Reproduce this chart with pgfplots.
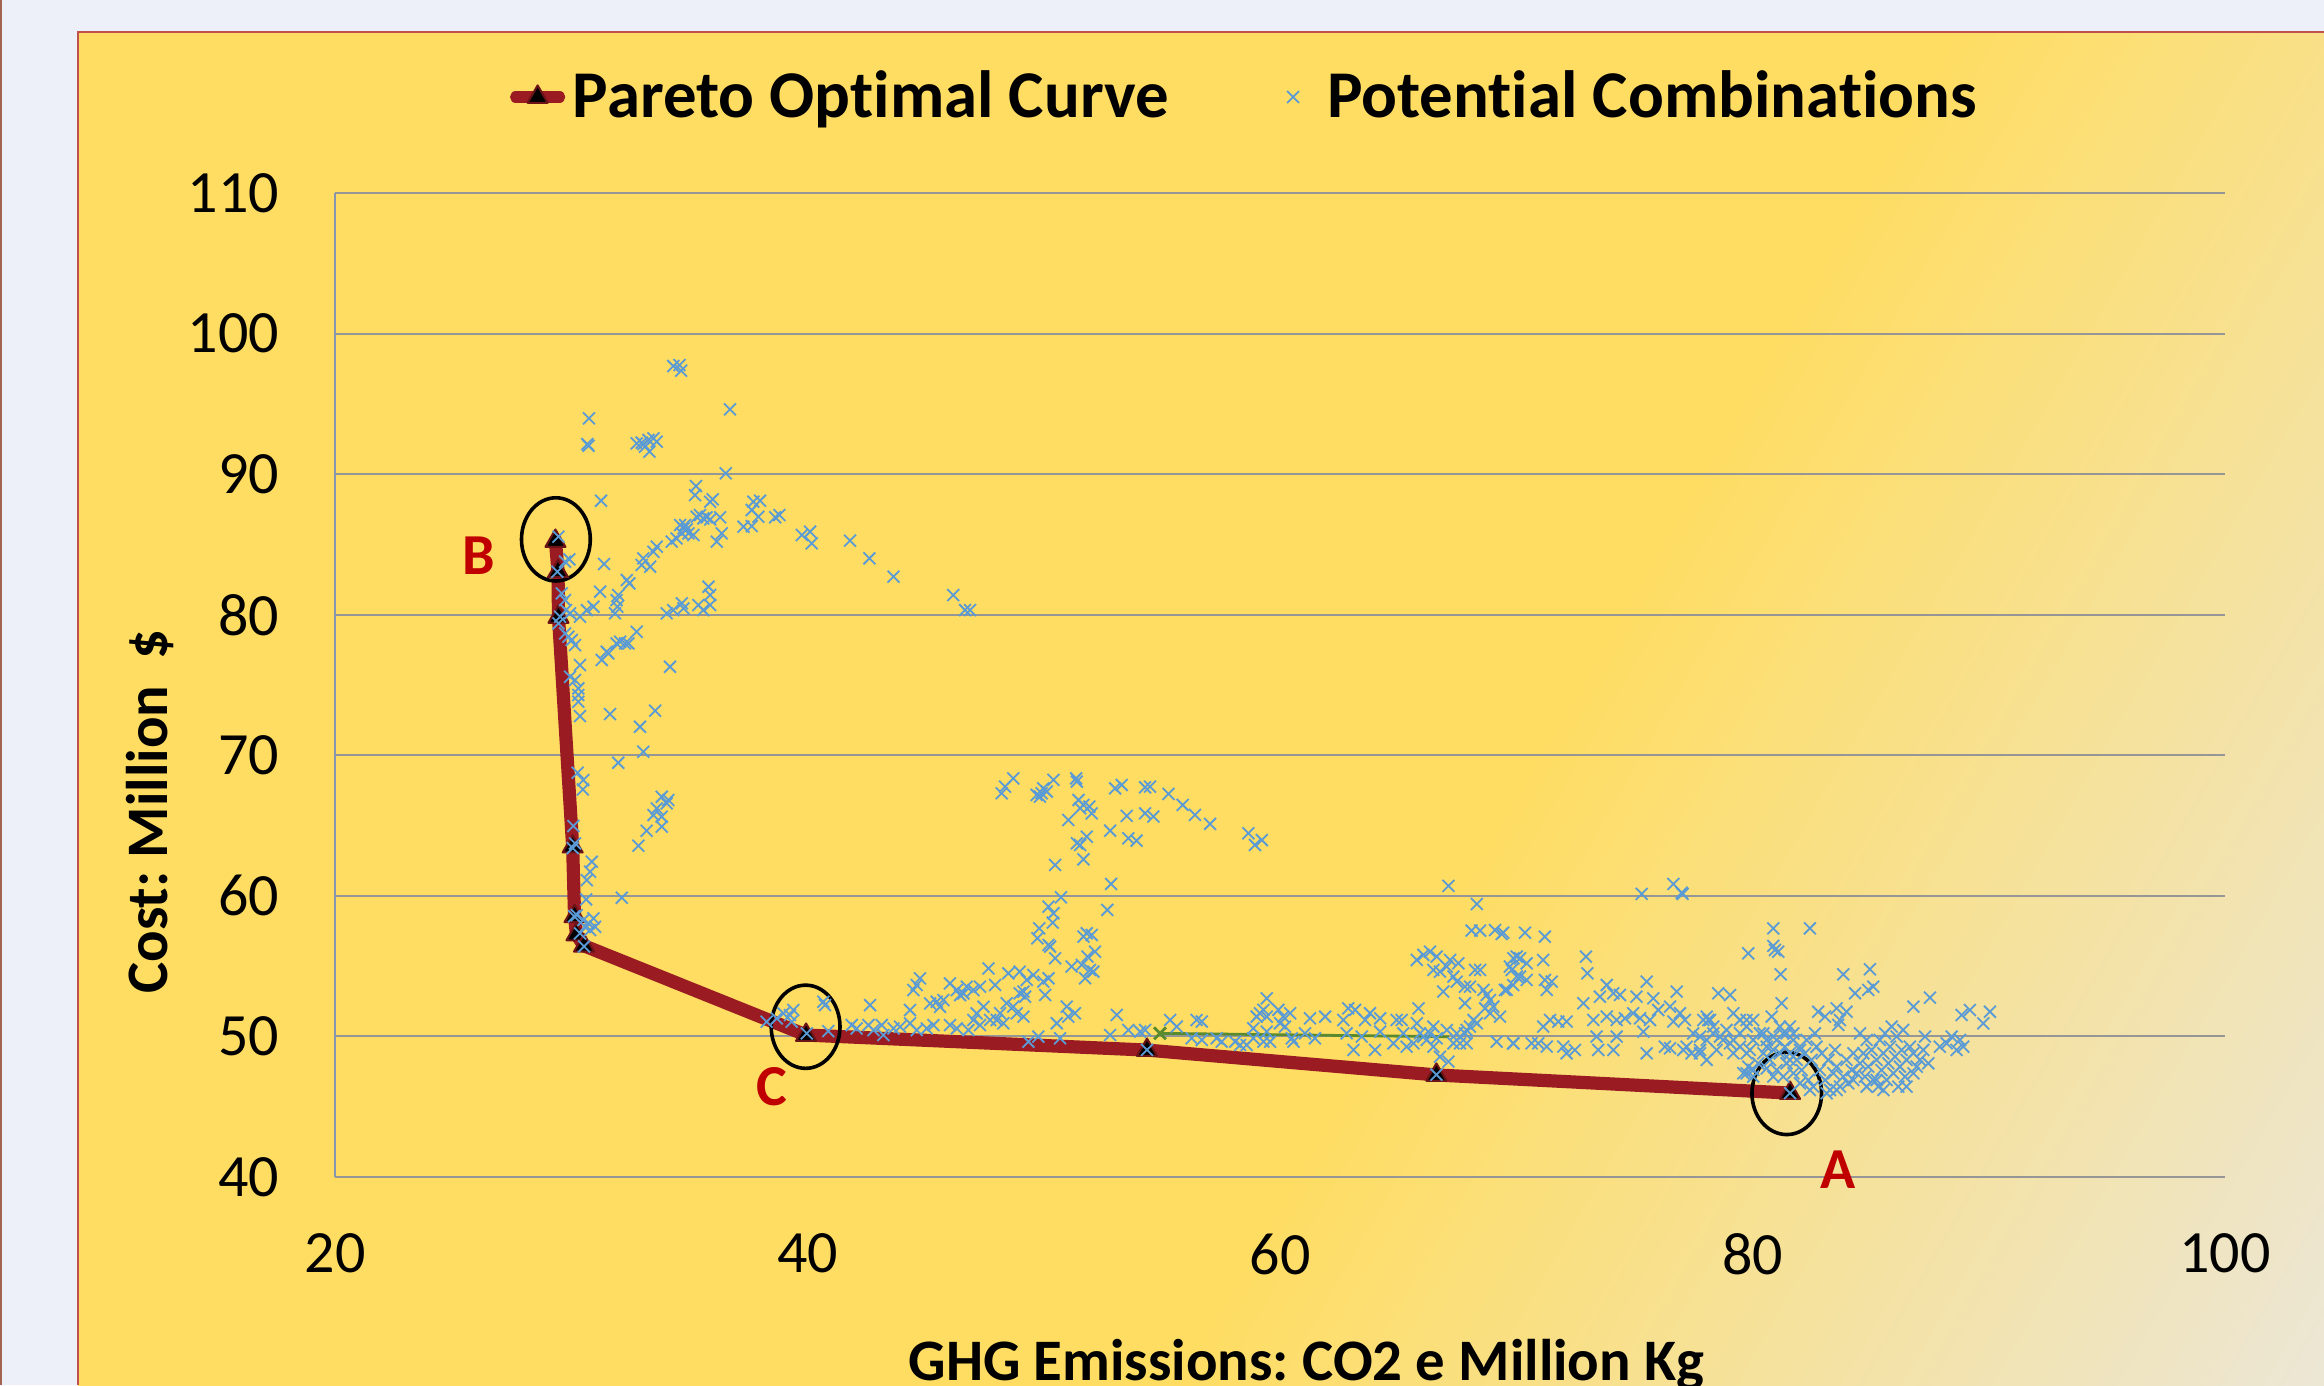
\documentclass[border=0pt]{standalone}
\usepackage{fontspec}
\setmainfont{Carlito}[Ligatures={NoCommon}]
\usepackage{pgfplots}
\usepackage{pgfplotstable}
\pgfplotsset{compat=1.18}
\frenchspacing
\definecolor{outerbg}{RGB}{237,240,248}
\definecolor{leftline}{RGB}{160,100,80}
\definecolor{panelY}{RGB}{255,221,98}
\definecolor{panelE}{RGB}{236,230,212}
\definecolor{panelborder}{RGB}{192,80,77}
\definecolor{pareto}{RGB}{155,27,35}
\definecolor{scat}{RGB}{91,155,213}
\definecolor{gridc}{RGB}{150,150,150}
\definecolor{axisc}{RGB}{134,150,178}
\definecolor{greenl}{RGB}{90,138,46}
\definecolor{lblred}{RGB}{192,0,0}
\pgfdeclarehorizontalshading{panelshade}{100bp}{color(0bp)=(panelY); color(58bp)=(panelY); color(84bp)=(panelE); color(100bp)=(panelE)}
\pgfplotsset{
  paretolegend/.style={legend image code/.code={\path[draw=none] (0pt,0pt) -- (13.8pt,0pt); \draw[mark repeat=2, mark phase=2, ##1, line width=2.8pt] plot coordinates {(0pt,0pt) (5.5pt,0pt) (11pt,0pt)};}},
  scatlegend/.style={legend image code/.code={\path[draw=none] (0pt,0pt) -- (16pt,0pt); \draw[##1] plot coordinates {(8pt,0pt)};}},
}

\pgfplotstableread{
x y
29.33 85.24
29.44 83.08
29.46 79.84
30.06 63.50
30.14 58.55
30.22 57.25
30.54 56.45
39.94 50.10
54.37 49.03
66.62 47.26
81.59 45.97
}\paretotable

\pgfplotstableread{
x y
34.32 97.69
34.58 97.76
34.65 97.36
36.72 94.61
30.75 93.97
30.68 92.14
30.73 92.02
32.77 92.19
33.05 92.14
33.27 92.43
33.48 92.55
33.62 92.31
33.12 91.95
33.31 91.60
32.98 92.24
36.54 90.06
31.26 88.11
35.28 89.15
35.24 88.51
35.88 88.04
35.99 88.21
37.71 88.04
37.99 88.11
37.64 87.45
37.92 86.97
37.29 86.26
37.64 86.31
38.63 86.93
38.81 87.09
35.31 86.97
35.59 86.85
35.73 86.93
35.88 86.78
36.30 86.93
35.45 87.09
34.61 86.38
34.75 86.14
34.89 86.07
34.68 85.79
34.46 85.43
34.25 85.20
35.17 85.67
34.82 86.38
34.96 85.79
36.37 85.79
36.16 85.20
39.76 85.67
40.11 85.91
40.18 85.08
41.80 85.27
42.62 84.01
43.64 82.71
46.17 81.40
46.67 80.33
46.88 80.33
33.62 84.84
33.48 84.48
33.05 84.01
33.34 83.42
32.98 83.54
31.39 83.61
29.46 85.55
29.41 83.06
29.92 83.94
29.74 83.77
32.35 82.47
32.46 82.23
31.99 81.40
31.92 81.04
31.85 80.10
31.95 80.57
31.22 81.64
30.94 80.57
30.66 80.33
30.37 79.86
29.60 81.52
29.74 81.04
29.78 80.33
29.95 80.10
34.04 80.10
34.32 80.33
34.68 80.81
34.75 80.45
35.38 80.69
35.59 80.33
35.88 80.69
35.81 81.99
35.88 81.40
29.53 79.86
29.46 79.38
29.74 78.67
29.88 78.44
30.02 78.20
30.16 77.84
32.77 78.79
32.07 78.08
32.28 77.96
32.42 77.96
31.92 77.96
31.50 77.37
31.57 77.25
31.29 76.78
34.18 76.30
30.37 76.42
29.95 75.59
30.16 75.35
30.30 74.76
30.30 74.29
30.30 73.81
30.37 72.79
31.64 72.93
32.91 72.03
33.55 73.17
33.05 70.25
31.99 69.47
30.27 68.76
30.51 68.24
30.49 67.57
33.83 67.05
34.04 66.58
33.62 66.22
33.48 65.75
33.83 65.63
33.19 64.63
33.83 64.92
32.84 63.57
34.11 66.82
30.09 64.97
30.16 63.73
30.06 63.40
30.87 62.43
30.80 61.72
30.66 61.12
30.63 59.75
32.14 59.87
30.23 58.63
30.51 58.28
30.73 58.04
30.94 58.40
31.01 57.80
30.80 57.57
30.58 57.80
30.37 57.33
30.12 58.55
30.54 56.40
38.27 51.05
38.70 51.28
38.98 51.64
39.26 51.52
39.40 51.88
39.33 51.05
40.67 52.47
40.74 52.23
40.88 50.38
39.97 50.22
41.87 50.81
42.08 50.57
42.58 50.81
42.65 52.23
42.79 50.45
43.14 50.81
43.21 50.10
43.64 50.57
43.92 50.69
44.34 50.93
44.62 50.45
45.05 50.57
45.33 50.81
46.03 50.81
46.32 50.57
46.81 50.45
47.30 50.81
47.73 51.17
48.01 51.17
44.34 51.88
44.48 53.30
44.62 53.66
44.76 54.13
45.19 52.35
45.47 52.47
45.75 52.59
45.61 52.11
46.03 53.77
46.32 53.30
46.46 52.94
46.74 53.54
46.60 53.06
47.02 53.30
47.30 53.54
47.66 54.84
47.94 53.66
47.16 51.64
47.45 52.11
47.02 51.17
48.36 67.77
48.71 68.36
48.22 67.30
49.70 67.18
49.91 67.30
50.13 67.42
49.98 67.65
49.84 67.06
50.41 68.25
51.37 68.36
51.40 68.13
53.02 67.65
53.30 67.89
54.29 67.72
54.50 67.77
55.28 67.25
55.88 66.47
56.40 65.76
57.04 65.12
51.47 66.82
51.68 66.47
51.93 66.35
51.54 66.23
52.03 65.87
51.04 65.40
53.51 65.69
54.29 65.87
54.64 65.64
52.81 64.64
53.58 64.10
53.93 63.93
58.66 64.45
58.94 63.62
59.23 63.97
51.82 64.21
51.54 63.62
51.40 63.74
51.68 62.60
50.48 62.20
52.85 60.85
50.73 59.90
50.20 59.23
50.41 58.76
50.38 58.10
49.81 57.69
49.73 56.98
50.27 56.39
50.20 56.51
50.48 55.56
52.69 59.00
51.82 57.34
52.03 57.22
51.68 57.10
52.17 56.03
51.85 55.68
51.18 54.97
51.61 55.09
51.96 54.73
52.10 54.61
51.75 54.14
48.50 54.49
48.98 54.61
49.28 54.02
49.56 54.37
49.98 53.90
50.20 54.14
49.14 53.19
48.98 53.07
49.21 52.83
50.06 52.95
48.43 52.36
48.71 52.12
48.86 51.65
49.14 51.41
48.15 51.65
48.29 50.94
49.35 49.63
49.77 49.99
50.69 49.87
50.55 50.94
50.97 52.12
51.32 51.65
51.04 51.41
53.09 51.53
52.81 50.10
53.58 50.46
54.08 50.34
54.29 50.46
55.35 51.17
55.63 50.70
56.47 51.17
56.69 51.06
56.26 49.87
56.69 49.75
57.32 49.87
57.53 49.63
58.10 49.63
58.31 49.39
58.59 49.39
58.87 49.87
58.87 50.58
59.30 49.63
59.44 50.34
59.58 49.63
59.01 51.41
59.15 51.65
59.30 51.89
59.44 52.71
59.44 51.41
59.93 51.89
60.14 51.41
60.43 51.65
60.00 50.94
60.21 50.70
60.50 49.87
60.57 49.63
61.06 50.22
61.27 51.29
61.48 49.87
61.91 51.41
62.68 51.17
62.89 52.00
63.18 51.89
62.82 50.22
63.11 49.04
63.46 49.99
63.60 51.17
63.81 51.65
64.02 49.04
64.24 51.29
64.24 50.34
64.80 49.51
64.94 51.17
65.15 51.17
65.22 50.22
65.36 49.27
65.65 49.51
65.79 50.94
65.86 52.00
65.93 50.22
66.07 49.99
66.21 49.75
66.35 50.22
66.49 50.70
66.49 49.27
66.63 49.87
66.77 48.56
67.06 50.46
67.13 48.21
67.34 49.51
67.48 50.22
67.62 49.51
67.83 50.22
67.90 50.46
68.04 50.70
67.90 49.51
68.19 51.17
68.33 50.94
69.17 49.63
69.88 49.51
67.13 60.71
68.33 59.42
68.11 57.53
68.47 57.53
69.10 57.57
69.38 57.29
65.79 55.44
66.07 55.80
66.35 56.03
66.63 55.68
66.49 54.73
66.77 54.61
67.06 54.97
67.20 55.44
67.55 55.20
67.34 54.26
67.48 53.90
67.83 53.54
68.04 53.54
66.91 53.19
67.83 52.36
68.47 54.73
68.26 54.73
68.61 53.31
68.75 52.95
68.89 52.59
68.68 52.00
69.03 52.12
68.89 51.65
69.31 51.41
69.60 53.31
69.88 55.56
69.81 54.73
70.02 54.26
54.37 49.05
66.62 47.28
75.31 60.14
76.65 60.85
77.00 60.23
77.04 60.14
69.45 57.38
70.37 57.38
71.21 57.10
70.02 55.68
70.16 55.56
70.44 55.20
69.73 54.97
71.14 55.44
70.16 54.26
70.44 54.02
69.87 53.66
69.52 53.31
71.21 54.02
71.50 53.90
71.29 53.31
72.95 55.68
73.01 54.49
79.82 55.91
80.88 57.69
82.43 57.69
80.88 56.44
81.09 56.03
80.95 56.15
81.19 54.42
81.23 52.36
83.84 54.42
84.97 54.78
85.11 53.54
84.90 53.31
84.34 53.07
86.81 52.12
87.51 52.76
88.85 51.53
89.20 51.88
90.05 51.76
89.77 50.93
72.84 52.36
73.26 51.17
73.54 52.83
73.83 53.66
74.11 53.07
74.39 52.95
73.83 51.41
74.25 51.17
74.60 51.29
75.09 52.83
75.52 53.90
75.80 52.71
74.95 51.65
75.24 51.29
75.66 51.17
76.01 51.88
76.51 52.12
76.79 53.19
76.93 51.65
77.14 51.17
76.65 51.06
71.14 50.70
71.43 51.17
71.78 51.06
72.13 51.06
69.87 49.51
70.65 49.51
70.93 49.51
71.29 49.28
71.99 49.28
72.13 48.80
72.48 49.04
73.40 49.99
73.47 49.04
74.11 49.04
74.25 49.99
75.38 50.34
75.52 48.80
76.29 49.27
76.51 49.16
77.07 49.04
77.42 48.80
77.78 49.04
78.06 48.33
77.92 51.17
78.13 51.17
78.34 50.22
78.55 53.07
79.05 52.95
79.19 51.65
79.47 51.17
79.75 51.17
80.03 51.17
78.76 49.75
79.05 49.51
79.47 49.27
79.89 49.04
79.75 47.38
80.03 47.62
80.46 50.22
80.60 49.27
80.81 51.41
81.02 49.75
81.30 50.22
81.58 50.70
81.73 50.22
82.01 49.27
82.29 49.75
82.64 50.22
82.78 51.76
83.07 51.41
83.56 52.00
83.98 51.76
83.63 50.82
83.70 51.17
84.55 50.22
84.83 49.75
77.49 50.22
77.78 49.99
78.06 49.75
78.34 50.70
78.62 49.99
78.90 50.46
79.19 49.75
79.47 50.22
79.75 50.70
80.03 49.75
80.31 50.22
80.60 49.75
80.88 49.99
81.16 50.70
81.44 50.22
81.73 49.75
77.78 48.80
77.21 49.27
78.48 49.04
79.19 48.80
79.75 48.80
78.06 51.41
78.20 51.17
79.61 47.38
79.82 47.85
80.03 47.14
80.24 48.09
80.46 48.80
80.60 47.73
80.74 48.33
80.88 49.04
81.02 47.61
81.16 48.80
81.37 49.27
81.44 48.09
81.58 48.80
81.73 47.38
81.87 48.33
82.01 49.04
82.08 47.61
82.22 48.80
82.36 46.90
82.50 48.33
82.57 46.43
82.71 49.27
82.85 47.61
82.93 48.80
83.07 46.90
83.21 48.33
83.28 46.19
83.42 47.38
83.49 49.04
83.56 47.85
83.70 46.43
83.84 47.14
83.98 48.33
84.05 46.67
84.20 47.61
84.27 48.80
84.41 47.38
84.55 48.09
84.69 48.80
84.76 47.14
84.90 47.85
85.04 49.04
85.11 46.90
85.25 48.33
85.32 46.43
85.39 49.75
85.46 47.61
85.54 48.80
85.61 50.22
85.68 46.90
85.75 48.09
85.82 49.27
85.89 50.70
85.96 47.38
86.03 48.56
86.10 49.99
86.17 46.43
86.24 47.85
86.31 49.04
86.38 50.46
86.45 47.14
86.52 48.33
86.66 49.27
86.81 48.80
86.95 47.85
87.09 48.33
87.23 49.04
87.30 49.99
87.44 48.09
86.81 47.38
86.52 46.43
85.54 46.19
85.25 46.90
84.83 46.43
84.27 46.90
83.56 46.19
83.14 45.96
81.58 48.33
81.30 47.14
80.88 47.14
82.01 46.67
82.43 46.19
87.93 49.27
88.22 49.51
88.43 49.99
88.64 49.04
88.78 49.75
88.92 49.27
81.59 45.97
}\scattable

\begin{document}
\begin{tikzpicture}
\useasboundingbox (0,0) rectangle (581pt,346.25pt);
\clip (0,0) rectangle (581pt,346.25pt);
\fill[outerbg] (0,0) rectangle (581pt,346.25pt);
\fill[leftline] (0,0) rectangle (0.6pt,346.25pt);
\shade[shading=panelshade, shading angle=-30] (19.5pt,0pt) rectangle (581pt,338.25pt);
\draw[panelborder, line width=0.45pt] (19.5pt,0pt) -- (19.5pt,338.25pt) -- (581pt,338.25pt);
\begin{axis}[
  at={(83.75pt,52pt)}, anchor=south west,
  scale only axis, width=472.5pt, height=246pt,
  xmin=20, xmax=100, ymin=40, ymax=110,
  xtick={20,40,60,80,100}, ytick={40,50,60,70,80,90,100,110},
  axis lines*=left,
  x axis line style={gridc, line width=0.5pt},
  y axis line style={axisc, line width=0.5pt},
  major tick length=0pt,
  ymajorgrids, grid style={gridc, line width=0.5pt},
  clip=false,
  /pgf/number format/assume math mode=true,
  ticklabel style={font=\fontsize{15}{18}\selectfont},
  xticklabel style={anchor=north, inner sep=0pt, yshift=-14pt},
  yticklabel style={anchor=east, inner sep=0pt, xshift=-13.75pt},
  xlabel={GHG Emissions: CO2 e Million Kg},
  xlabel style={at={(axis description cs:0.514,-0.2063)}, anchor=base, inner sep=0pt, font=\bfseries\fontsize{14.7}{17}\selectfont},
  ylabel={Cost: Million\ \ \$},
  ylabel style={at={(axis description cs:-0.0884,0.3714)}, anchor=base, inner sep=0pt, font=\bfseries\fontsize{14.7}{17}\selectfont},
  legend columns=2,
  legend cell align=left,
  legend style={at={(axis description cs:0.0922,1.0976)}, anchor=west, draw=none, fill=none, inner sep=0pt,
    font=\bfseries\fontsize{16.7}{19}\selectfont,
    nodes={inner sep=0.5pt},
    /tikz/every even column/.append style={column sep=22.5pt}},
]
\addplot[pareto, line width=3.3pt, line cap=round, line join=round,
  mark=triangle*, mark size=2.9pt,
  mark options={fill=black, draw=pareto!70!black, line width=0.5pt, solid},
  paretolegend] table[x=x, y=y] {\paretotable};
\addlegendentry{Pareto Optimal Curve}
\addplot[only marks, mark=x, mark size=2.1pt, color=scat, mark options={line width=0.45pt},
  scatlegend] table[x=x, y=y] {\scattable};
\addlegendentry{Potential Combinations}
\addplot[greenl, line width=0.7pt, mark=x, mark size=2.1pt, mark indices={1}, forget plot] coordinates {(54.92,50.22) (67.15,49.98)};
\draw[black, line width=0.9pt] (axis cs:29.35,85.36) ellipse (8.6pt and 10.4pt);
\draw[black, line width=0.9pt] (axis cs:39.92,50.69) ellipse (8.6pt and 10.4pt);
\draw[black, line width=0.9pt] (axis cs:81.45,45.95) ellipse (8.7pt and 10.3pt);
\node[lblred, font=\bfseries\fontsize{14.5}{17}\selectfont] at (axis cs:26.10,84.18) {B};
\node[lblred, font=\bfseries\fontsize{14.5}{17}\selectfont] at (axis cs:38.50,46.40) {C};
\node[lblred, font=\bfseries\fontsize{14.5}{17}\selectfont] at (axis cs:83.61,40.50) {A};
\end{axis}
\end{tikzpicture}
\end{document}
